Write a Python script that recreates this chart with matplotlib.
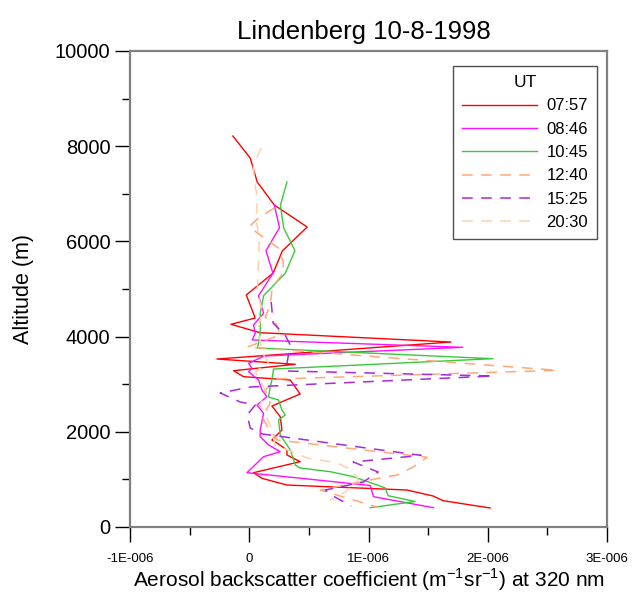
# -*- coding: utf-8 -*-
"""
Lidar aerosol backscatter profiles, Lindenberg 10-8-1998
"""
from matplotlib import pyplot as plt
from matplotlib.ticker import MultipleLocator, FuncFormatter

plt.rcParams['font.family'] = ['Liberation Sans', 'DejaVu Sans']
plt.rcParams['mathtext.fontset'] = 'custom'
plt.rcParams['mathtext.rm'] = 'Liberation Sans'

# backscatter values in units of 1E-006 (m-1 sr-1), altitudes in m
times = ["07:57", "08:46", "10:45", "12:40", "15:25", "20:30"]

beta_0757 = [-0.137, 0.008, 0.067, 0.21, 0.486, 0.277, 0.201, -0.025, 0.05, -0.153, 0.092, 1.691,
             -0.271, 0.386, -0.132, -0.048, 0.344, 0.427, 0.19, 0.26, 0.274, 0.19, 0.232, 0.316,
             0.316, 0.427, 0.036, 0.106, 0.316, 1.322, 1.542, 1.626, 2.02]
alt_0757 = [8214, 7752, 7248, 6765, 6302, 5798, 5336, 4874, 4391, 4258, 4082, 3886,
            3529, 3418, 3284, 3158, 3088, 2794, 2542, 2317, 2038, 1828, 1765, 1618,
            1513, 1372, 1141, 1023, 882, 777, 651, 553, 399]

beta_0846 = [0.21, 0.254, 0.14, 0.199, 0.078, 0.12, 0.036, 0.05, 0.025, 1.791, 0.126, -0.006,
             0.023, -0.006, 0.078, 0.106, 0.148, 0.065, 0.12, 0.092, 0.092, 0.162, 0.26, 0.12,
             -0.019, 1.014, 1.042, 1.545]
alt_0846 = [6765, 6288, 5805, 5330, 4859, 4489, 4244, 4069, 3929, 3775, 3592, 3439,
            3334, 3263, 3088, 2878, 2737, 2563, 2389, 2038, 1897, 1723, 1582, 1477,
            1141, 872, 637, 405]

beta_1045 = [0.316, 0.262, 0.288, 0.383, 0.302, 0.12, 0.092, 0.092, 0.075, 0.067, 2.043, 0.204,
             0.19, 0.176, 0.162, 0.246, 0.274, 0.302, 0.246, 0.26, 0.344, 0.386, 0.427, 0.679,
             0.872, 1.073, 1.14, 1.165, 1.391, 1.014]
alt_1045 = [7248, 6765, 6288, 5805, 5330, 4859, 4496, 4076, 3823, 3760, 3536, 3319,
            3088, 2941, 2731, 2668, 2458, 2353, 2248, 1933, 1618, 1302, 1239, 1162,
            1057, 882, 819, 657, 536, 405]

beta_1240 = [0.21, 0.067, 0.0, 0.092, 0.243, 0.285, 0.285, 0.193, 0.176, 0.134, 0.226, 0.26,
             -0.017, 2.582, 0.235, 0.134, 0.176, 0.109, 0.159, 0.235, 1.492, 1.375, 1.241, 1.098,
             0.595, 0.93, 1.073]
alt_1240 = [6702, 6471, 6302, 6134, 5861, 5567, 5336, 5042, 4664, 4412, 4265, 4034,
            3781, 3292, 3109, 2878, 2605, 2311, 2080, 1828, 1464, 1260, 1092, 1029,
            777, 525, 420]

beta_1525 = [0.184, 0.2, 0.3, 0.344, 0.318, 0.318, 2.045, 0.008, -0.243, -0.075, 0.05, -0.017,
             0.008, 0.11, 1.44, 0.872, 1.081, 0.956, 0.637, 0.704, 0.855]
alt_1525 = [4727, 4286, 4034, 3824, 3466, 3277, 3172, 2941, 2815, 2626, 2563, 2353,
            2080, 1954, 1505, 1366, 1155, 945, 777, 651, 441]

beta_2030 = [0.101, 0.034, 0.042, 0.067, 0.059, 0.084, 0.075, 0.067, 0.109, 0.075, 0.109, 0.159,
             0.05, 0.134, 0.092, 0.176, 0.218, 0.486, 0.738, 0.863, 0.914, 0.805, 0.679]
alt_2030 = [7962, 7605, 7290, 6912, 6450, 6029, 5462, 4916, 4559, 4139, 3655, 3466,
            3256, 2878, 2563, 2143, 1723, 1450, 1344, 1197, 987, 735, 567]

profiles = [(beta_0757, alt_0757), (beta_0846, alt_0846), (beta_1045, alt_1045),
            (beta_1240, alt_1240), (beta_1525, alt_1525), (beta_2030, alt_2030)]
colours = ['#FF0000', '#FF10FF', '#3CC83C', '#FFA878', '#A62AE2', '#FFD2A8']
dashed = [False, False, False, True, True, True]

fig = plt.figure(figsize=(6.32, 5.95), dpi=100)
ax = fig.add_axes([130 / 632, 1 - 527 / 595, 477 / 632, 476 / 595])

for (beta, alt), lab, col, d in zip(profiles, times, colours, dashed):
    x = [b * 1e-6 for b in beta]
    if d:
        ax.plot(x, alt, color=col, lw=1.1, label=lab, dashes=(7, 5.5))
    else:
        ax.plot(x, alt, color=col, lw=1.0, label=lab)

ax.set_xlim(-1e-6, 3e-6)
ax.set_ylim(0, 10000)

def e_label(v, pos):
    m = round(v / 1e-6)
    if m == 0:
        return "0"
    return "%dE-006" % m

ax.xaxis.set_major_locator(MultipleLocator(1e-6))
ax.xaxis.set_minor_locator(MultipleLocator(0.5e-6))
ax.xaxis.set_major_formatter(FuncFormatter(e_label))
ax.yaxis.set_major_locator(MultipleLocator(2000))
ax.yaxis.set_minor_locator(MultipleLocator(1000))

for s in ax.spines.values():
    s.set_color('#808080')
    s.set_linewidth(1.6)
ax.tick_params(which='major', direction='out', length=11, width=1.0, color='black')
ax.tick_params(which='minor', direction='out', length=6, width=1.0, color='black')
ax.tick_params(axis='x', labelsize=9.5, pad=8)
ax.tick_params(axis='y', labelsize=14.5, pad=3)

ax.set_title("Lindenberg 10-8-1998", fontsize=18.5, pad=9, x=0.49)
ax.set_xlabel(r"Aerosol backscatter coefficient (m$^{\mathrm{-1}}$sr$^{\mathrm{-1}}$) at 320 nm",
              fontsize=15, labelpad=1)
ax.set_ylabel("Altitude (m)", fontsize=15.5, labelpad=15)

leg = ax.legend(title="UT", loc='upper left', bbox_to_anchor=(0.677, 0.9685), fontsize=12,
                title_fontsize=12.5, handlelength=4.5, handletextpad=0.55, labelspacing=0.5,
                borderpad=0.55, borderaxespad=0, fancybox=False, framealpha=1)
leg.get_frame().set_edgecolor('#505050')
leg.get_frame().set_linewidth(1.0)

fig.savefig("out.png", dpi=100)
